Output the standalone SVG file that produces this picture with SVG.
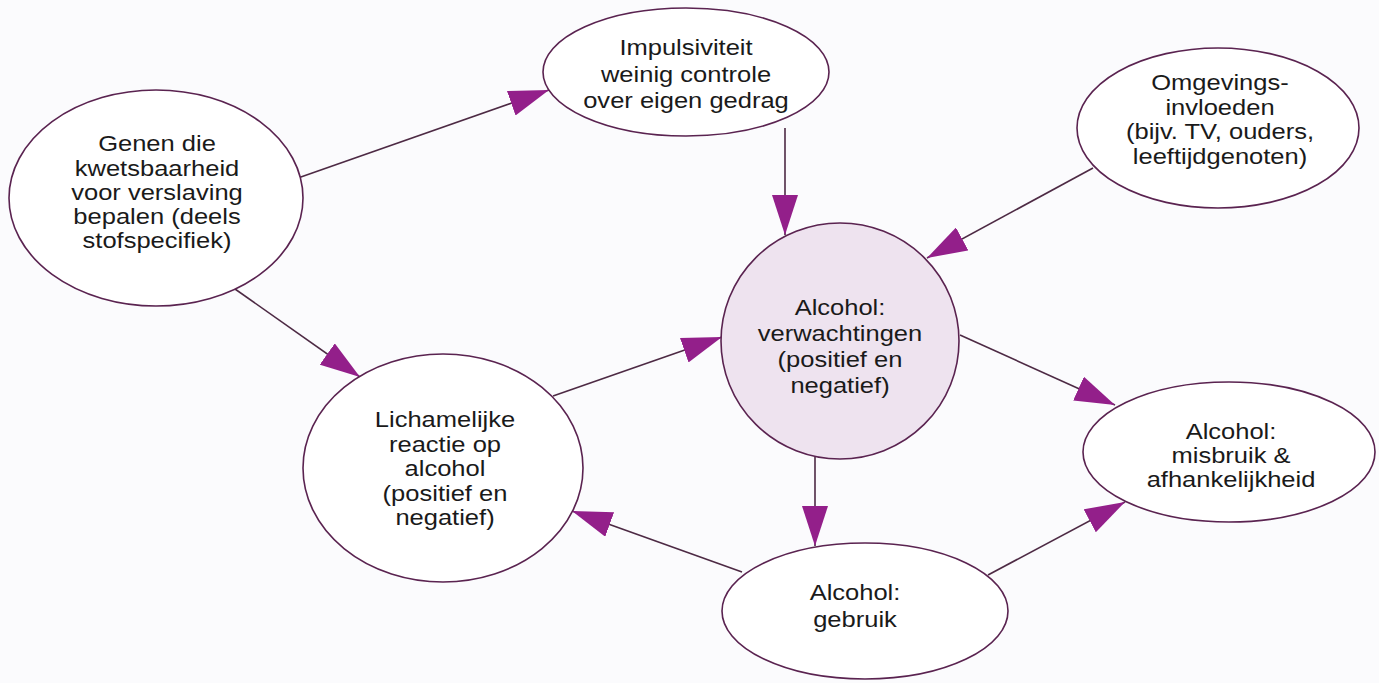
<svg xmlns="http://www.w3.org/2000/svg" width="1379" height="683" viewBox="0 0 1379 683">
  <style>
    .node { fill: #ffffff; stroke: #5a2350; stroke-width: 1.6; }
    .center { fill: #eee3ef; stroke: #5a2350; stroke-width: 1.6; }
    .lbl { font-family: "Liberation Sans", Arial, sans-serif; font-size: 22px; fill: #1a1a1a; text-anchor: middle; }
    .edge { fill: none; stroke: #4d2a44; stroke-width: 1.6; }
  </style>
  <defs>
    <marker id="arr" markerUnits="userSpaceOnUse" viewBox="0 0 40 26" refX="40" refY="13" markerWidth="40" markerHeight="26" orient="auto">
      <path d="M0,0 L40,13 L0,26 Z" fill="#931f8a"/>
    </marker>
  </defs>
  <rect width="1379" height="683" fill="#fbfbfd"/>

  <g id="connectors">
    <line class="edge" x1="298" y1="178" x2="549" y2="90" marker-end="url(#arr)"/>
    <line class="edge" x1="235" y1="289" x2="360" y2="377" marker-end="url(#arr)"/>
    <line class="edge" x1="785" y1="128" x2="785" y2="235" marker-end="url(#arr)"/>
    <line class="edge" x1="1093" y1="168" x2="927" y2="258" marker-end="url(#arr)"/>
    <line class="edge" x1="553" y1="396" x2="722" y2="337" marker-end="url(#arr)"/>
    <line class="edge" x1="960" y1="335" x2="1115" y2="405" marker-end="url(#arr)"/>
    <line class="edge" x1="815" y1="457" x2="815" y2="546" marker-end="url(#arr)"/>
    <line class="edge" x1="742" y1="572" x2="572" y2="511" marker-end="url(#arr)"/>
    <line class="edge" x1="988" y1="575" x2="1125" y2="502" marker-end="url(#arr)"/>
  </g>

  <g id="node-genen">
    <ellipse class="node" cx="156" cy="198" rx="147" ry="108"/>
    <g transform="translate(157 0) scale(1.16 1)">
      <text class="lbl" x="0" y="151">Genen die</text>
      <text class="lbl" x="0" y="176">kwetsbaarheid</text>
      <text class="lbl" x="0" y="200">voor verslaving</text>
      <text class="lbl" x="0" y="224">bepalen (deels</text>
      <text class="lbl" x="0" y="248">stofspecifiek)</text>
    </g>
  </g>

  <g id="node-impulsiviteit">
    <ellipse class="node" cx="686" cy="72" rx="143" ry="64"/>
    <g transform="translate(686 0) scale(1.16 1)">
      <text class="lbl" x="0" y="55">Impulsiviteit</text>
      <text class="lbl" x="0" y="82">weinig controle</text>
      <text class="lbl" x="0" y="108">over eigen gedrag</text>
    </g>
  </g>

  <g id="node-omgeving">
    <ellipse class="node" cx="1218" cy="128" rx="141" ry="80"/>
    <g transform="translate(1220 0) scale(1.16 1)">
      <text class="lbl" x="0" y="90">Omgevings-</text>
      <text class="lbl" x="0" y="115">invloeden</text>
      <text class="lbl" x="0" y="139">(bijv. TV, ouders,</text>
      <text class="lbl" x="0" y="164">leeftijdgenoten)</text>
    </g>
  </g>

  <g id="node-verwachtingen">
    <ellipse class="center" cx="840" cy="341" rx="119" ry="118"/>
    <g transform="translate(840 0) scale(1.16 1)">
      <text class="lbl" x="0" y="315">Alcohol:</text>
      <text class="lbl" x="0" y="341">verwachtingen</text>
      <text class="lbl" x="0" y="367">(positief en</text>
      <text class="lbl" x="0" y="393">negatief)</text>
    </g>
  </g>

  <g id="node-lichamelijk">
    <ellipse class="node" cx="443" cy="468" rx="140" ry="114"/>
    <g transform="translate(445 0) scale(1.16 1)">
      <text class="lbl" x="0" y="427">Lichamelijke</text>
      <text class="lbl" x="0" y="452">reactie op</text>
      <text class="lbl" x="0" y="476">alcohol</text>
      <text class="lbl" x="0" y="501">(positief en</text>
      <text class="lbl" x="0" y="525">negatief)</text>
    </g>
  </g>

  <g id="node-misbruik">
    <ellipse class="node" cx="1229" cy="452" rx="146" ry="70"/>
    <g transform="translate(1231 0) scale(1.16 1)">
      <text class="lbl" x="0" y="439">Alcohol:</text>
      <text class="lbl" x="0" y="463">misbruik &amp;</text>
      <text class="lbl" x="0" y="487">afhankelijkheid</text>
    </g>
  </g>

  <g id="node-gebruik">
    <ellipse class="node" cx="865" cy="611" rx="143" ry="68"/>
    <g transform="translate(855 0) scale(1.16 1)">
      <text class="lbl" x="0" y="600">Alcohol:</text>
      <text class="lbl" x="0" y="627">gebruik</text>
    </g>
  </g>
</svg>
